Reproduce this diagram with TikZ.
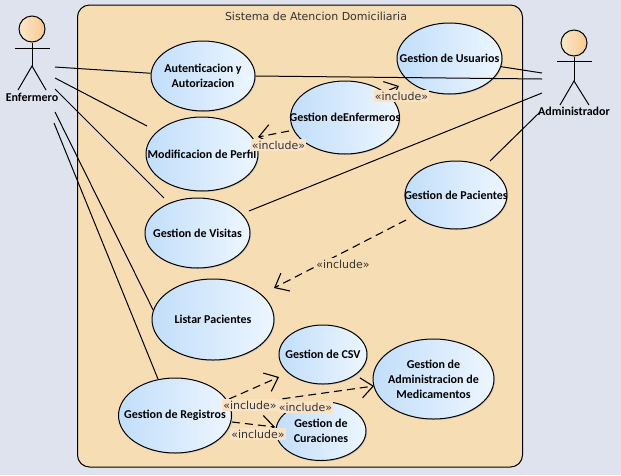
\documentclass[tikz,border=0pt]{standalone}
\usepackage{fontspec}
\setmainfont{Carlito}
\newfontfamily\labelfont{DejaVu Sans}
\usetikzlibrary{shapes,shapes.geometric,arrows.meta,shadows}
\definecolor{pagebg}{HTML}{DFE3EE}
\definecolor{framebg}{HTML}{F7DDB3}
\definecolor{labelbg}{HTML}{FAE3C4}
\definecolor{caseleft}{HTML}{C2DEFA}
\definecolor{caseright}{HTML}{EDF6FF}
\begin{document}
\begin{tikzpicture}[
    x=1pt, y=-1pt,
    usecase/.style={ellipse, draw=black, line width=1pt, left color=caseleft, right color=caseright, inner xsep=-45pt, inner ysep=0pt, align=center, font=\fontsize{12}{15}\selectfont\bfseries, drop shadow={shadow xshift=1pt, shadow yshift=-1pt, fill=black!30, opacity=0.6}},
    assoc/.style={line width=1pt},
    incl/.style={dashed, dash pattern=on 8pt off 5pt, line width=1.1pt, -{Straight Barb[length=12pt,width=20pt]}},
    incltext/.style={fill=labelbg, text=black!80, inner xsep=1pt, inner ysep=1.5pt, font=\labelfont\fontsize{11}{13}\selectfont},
    actorname/.style={font=\fontsize{12}{15}\selectfont\bfseries, inner sep=0pt},
    actorhead/.style={circle, draw=black, line width=1pt, left color=framebg!70!white, right color=framebg!80!orange, minimum size=26pt, inner sep=0pt}
]

% Background and system boundary
\fill[pagebg] (0,0) rectangle (621,475);
\node[rectangle, rounded corners=12pt, draw=black, line width=1pt, fill=framebg, minimum width=445pt, minimum height=462pt, inner sep=0pt] (sistema) at (300,236) {};
\node[font=\labelfont\fontsize{11}{13}\selectfont, text=black!80] (titulo) at (316,16) {Sistema de Atencion Domiciliaria};

% Actors
\node[actorhead] (enfhead) at (32,29) {};
\coordinate (enfhip) at (32,66);
\coordinate (enfarml) at (15,48);
\coordinate (enfarmr) at (50,48);
\coordinate (enflegl) at (18,90);
\coordinate (enflegr) at (46,90);
\draw[assoc] (enfhead) -- (enfhip);
\draw[assoc] (enfarml) -- (enfarmr);
\draw[assoc] (enflegl) -- (enfhip) -- (enflegr);
\node[actorname] (enfermero) at (32,97) {Enfermero};

\node[actorhead] (admhead) at (574,43) {};
\coordinate (admhip) at (574,81);
\coordinate (admarml) at (557,61);
\coordinate (admarmr) at (592,61);
\coordinate (admlegl) at (560,105);
\coordinate (admlegr) at (589,105);
\draw[assoc] (admhead) -- (admhip);
\draw[assoc] (admarml) -- (admarmr);
\draw[assoc] (admlegl) -- (admhip) -- (admlegr);
\node[actorname] (administrador) at (574,111) {Administrador};

% Use cases
\node[usecase, minimum width=104pt, minimum height=70pt] (auten) at (203,76) {Autenticacion y\\Autorizacion};
\node[usecase, minimum width=112pt, minimum height=74pt] (perfil) at (202,154) {Modificacion de Perfil};
\node[usecase, minimum width=105pt, minimum height=70pt] (visitas) at (197.5,233) {Gestion de Visitas};
\node[usecase, minimum width=109pt, minimum height=73pt] (enfermeros) at (345,117.5) {Gestion deEnfermeros};
\node[usecase, minimum width=105pt, minimum height=71pt] (usuarios) at (449.5,58.5) {Gestion de Usuarios};
\node[usecase, minimum width=102pt, minimum height=68pt] (pacientes) at (456,195) {Gestion de Pacientes};
\node[usecase, minimum width=122pt, minimum height=81pt] (listar) at (213,319.5) {Listar Pacientes};
\node[usecase, minimum width=88pt, minimum height=59pt] (csv) at (323,354.5) {Gestion de CSV};
\node[usecase, minimum width=121pt, minimum height=80pt] (medicamentos) at (433.5,379) {Gestion de\\Administracion de\\Medicamentos};
\node[usecase, minimum width=90pt, minimum height=59pt] (curaciones) at (321,431) {Gestion de\\Curaciones};
\node[usecase, minimum width=113pt, minimum height=75pt] (registros) at (175,415.5) {Gestion de Registros};

% Free ends of the associations
\coordinate (enfA) at (55,67);
\coordinate (enfB) at (55,78);
\coordinate (enfC) at (55,89);
\coordinate (enfD) at (55,112);
\coordinate (enfE) at (54,123);
\coordinate (admA) at (542,73);
\coordinate (admB) at (542,79);
\coordinate (admC) at (542,93);
\coordinate (admD) at (540,112);
\coordinate (perfilend) at (147,126);
\coordinate (visitasendl) at (164,198);
\coordinate (visitasendr) at (249,211);
\coordinate (pacientesend) at (490,161);

% Free ends of the includes
\coordinate (perfiltail) at (289,131);
\coordinate (perfiltip) at (258,137);
\coordinate (usuariostail) at (377,95);
\coordinate (usuariostip) at (399,86);
\coordinate (pacientestail) at (406,220);
\coordinate (listartip) at (274,288);
\coordinate (csvtail) at (229,399);
\coordinate (csvtip) at (279,377);
\coordinate (medtail) at (231,406);
\coordinate (medtip) at (374,386);
\coordinate (curtail) at (232,422);
\coordinate (curtip) at (275,427);

% Associations
\draw[assoc] (enfA) -- (auten.177);
\draw[assoc] (enfB) -- (perfilend);
\draw[assoc] (enfC) -- (visitasendl);
\draw[assoc] (enfD) -- (listar.171);
\draw[assoc] (enfE) -- (registros.115);
\draw[assoc] (auten.east) -- (admB);
\draw[assoc] (usuarios.-9) -- (admA);
\draw[assoc] (visitasendr) -- (admC);
\draw[assoc] (pacientesend) -- (admD);

% Includes
\draw[incl] (perfiltail) -- (perfiltip);
\draw[incl] (usuariostail) -- (usuariostip);
\draw[incl] (pacientestail) -- (listartip);
\draw[incl] (csvtail) -- (csvtip);
\draw[incl] (medtail) -- (medtip);
\draw[incl] (curtail) -- (curtip);

% Labels
\node[incltext] (inclperfil) at (278.5,145) {«include»};
\node[incltext] (inclusuarios) at (401.5,96) {«include»};
\node[incltext, fill=framebg] (inclpacientes) at (343,264) {«include»};
\node[incltext] (inclcsv) at (250,405) {«include»};
\node[incltext] (inclmed) at (305.5,407) {«include»};
\node[incltext] (inclcur) at (258,434) {«include»};

\useasboundingbox (0,0) rectangle (621,475);
\end{tikzpicture}
\end{document}
